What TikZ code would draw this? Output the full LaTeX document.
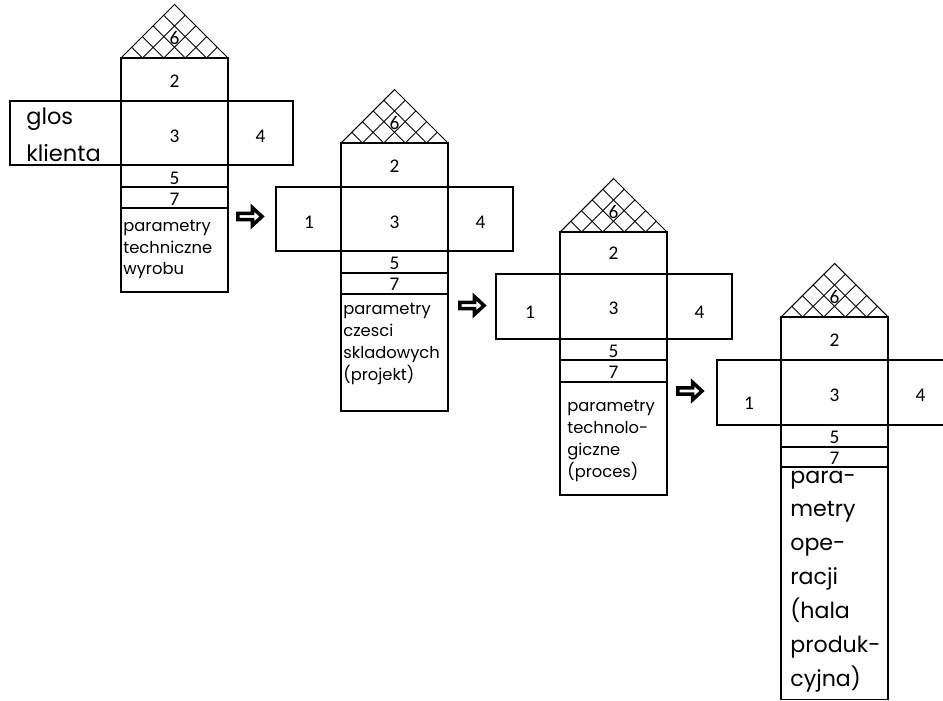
\documentclass[tikz,border=0pt]{standalone}
\usepackage{fontspec}
\setmainfont{Poppins}
\newfontfamily\numfont{Carlito}
\tikzset{
  qfd/.style={line width=0.6pt},
  hatch/.style={line width=0.5pt},
  num/.style={font=\numfont\fontsize{11}{13}\selectfont, inner sep=0pt},
  desc/.style={font=\fontsize{9.3}{12.5}\selectfont, align=left, anchor=west, inner sep=0pt},
  bigdesc/.style={font=\fontsize{12.6}{19.3}\selectfont, align=left, anchor=west, inner sep=0pt},
  nextarrow/.style={line width=2pt, line join=miter, fill=white}
}
\begin{document}
\begin{tikzpicture}[x=0.02cm,y=-0.02cm]
\clip (0,0) rectangle (943,700);
% house 1
\begin{scope}
\clip (121,58) -- (174.5,4.5) -- (228,58) -- cycle;
\foreach \k in {1,...,4} {
  \draw[hatch] (121+21.4*\k,58) -- ++(60,-60);
  \draw[hatch] (121+21.4*\k,58) -- ++(-60,-60);
}
\end{scope}
\draw[qfd] (121,58) -- (174.5,4.5) -- (228,58);
\draw[qfd] (121,58) rectangle (228,292);
\draw[qfd] (10,101) rectangle (293,165);
\draw[qfd] (121,187) -- (228,187);
\draw[qfd] (121,208) -- (228,208);
\node[num] (h1six) at (174.5,38.5) {6};
\node[num] (h1two) at (174.5,81) {2};
\node[num] (h1three) at (174.5,136) {3};
\node[num] (h1four) at (260.5,136) {4};
\node[num] (h1five) at (174.5,178) {5};
\node[num] (h1seven) at (174.5,199) {7};
\node[font=\fontsize{12.8}{21}\selectfont, align=left, anchor=west, inner sep=0pt] (voice) at (26,134.5) {glos\\klienta};
\node[desc] (h1txt) at (123,249.5) {parametry\\techniczne\\wyrobu};
% arrow to house 2
\draw[nextarrow,shift={(236,216.5)}] (1.8,-3.2) -- (16.5,-3.2) -- (16.5,-8.8) -- (26,0) -- (16.5,8.8) -- (16.5,3.2) -- (1.8,3.2) -- cycle;
% house 2
\begin{scope}
\clip (341,143) -- (394.5,89.5) -- (448,143) -- cycle;
\foreach \k in {1,...,4} {
  \draw[hatch] (341+21.4*\k,143) -- ++(60,-60);
  \draw[hatch] (341+21.4*\k,143) -- ++(-60,-60);
}
\end{scope}
\draw[qfd] (341,143) -- (394.5,89.5) -- (448,143);
\draw[qfd] (341,143) rectangle (448,411);
\draw[qfd] (276,187) rectangle (513,251);
\draw[qfd] (341,273) -- (448,273);
\draw[qfd] (341,294) -- (448,294);
\node[num] (h2six) at (394.5,123.5) {6};
\node[num] (h2two) at (394.5,166) {2};
\node[num] (h2one) at (309,222) {1};
\node[num] (h2three) at (394.5,222) {3};
\node[num] (h2four) at (480.5,222) {4};
\node[num] (h2five) at (394.5,263) {5};
\node[num] (h2seven) at (394.5,284) {7};
\node[desc] (h2txt) at (343,344) {parametry\\czesci\\skladowych\\(projekt)};
% arrow to house 3
\draw[nextarrow,shift={(458,305.5)}] (1.8,-3.2) -- (16.5,-3.2) -- (16.5,-8.8) -- (26,0) -- (16.5,8.8) -- (16.5,3.2) -- (1.8,3.2) -- cycle;
% house 3
\begin{scope}
\clip (560,232) -- (613.5,178.5) -- (667,232) -- cycle;
\foreach \k in {1,...,4} {
  \draw[hatch] (560+21.4*\k,232) -- ++(60,-60);
  \draw[hatch] (560+21.4*\k,232) -- ++(-60,-60);
}
\end{scope}
\draw[qfd] (560,232) -- (613.5,178.5) -- (667,232);
\draw[qfd] (560,232) rectangle (667,495);
\draw[qfd] (496,274) rectangle (732,339);
\draw[qfd] (560,360) -- (667,360);
\draw[qfd] (560,382) -- (667,382);
\node[num] (h3six) at (613.5,212.5) {6};
\node[num] (h3two) at (613.5,253) {2};
\node[num] (h3one) at (530,312) {1};
\node[num] (h3three) at (613.5,308) {3};
\node[num] (h3four) at (699.5,312) {4};
\node[num] (h3five) at (613.5,351) {5};
\node[num] (h3seven) at (613.5,372) {7};
\node[desc] (h3txt) at (567,441) {parametry\\technolo-\\giczne\\(proces)};
% arrow to house 4
\draw[nextarrow,shift={(676,391)}] (1.8,-3.2) -- (16.5,-3.2) -- (16.5,-8.8) -- (26,0) -- (16.5,8.8) -- (16.5,3.2) -- (1.8,3.2) -- cycle;
% house 4
\begin{scope}
\clip (781,317) -- (834.5,263.5) -- (888,317) -- cycle;
\foreach \k in {1,...,4} {
  \draw[hatch] (781+21.4*\k,317) -- ++(60,-60);
  \draw[hatch] (781+21.4*\k,317) -- ++(-60,-60);
}
\end{scope}
\draw[qfd] (781,317) -- (834.5,263.5) -- (888,317);
\draw[qfd] (781,317) rectangle (888,699.5);
\draw[qfd] (717,360) rectangle (953,425);
\draw[qfd] (781,447) -- (888,447);
\draw[qfd] (781,467) -- (888,467);
\node[num] (h4six) at (834.5,297.5) {6};
\node[num] (h4two) at (834.5,340) {2};
\node[num] (h4one) at (749,403) {1};
\node[num] (h4three) at (834.5,395) {3};
\node[num] (h4four) at (920.5,395) {4};
\node[num] (h4five) at (834.5,437) {5};
\node[num] (h4seven) at (834.5,458) {7};
\node[bigdesc] (h4txt) at (790,581.5) {para-\\metry\\ope-\\racji\\(hala\\produk-\\cyjna)};
\end{tikzpicture}
\end{document}
